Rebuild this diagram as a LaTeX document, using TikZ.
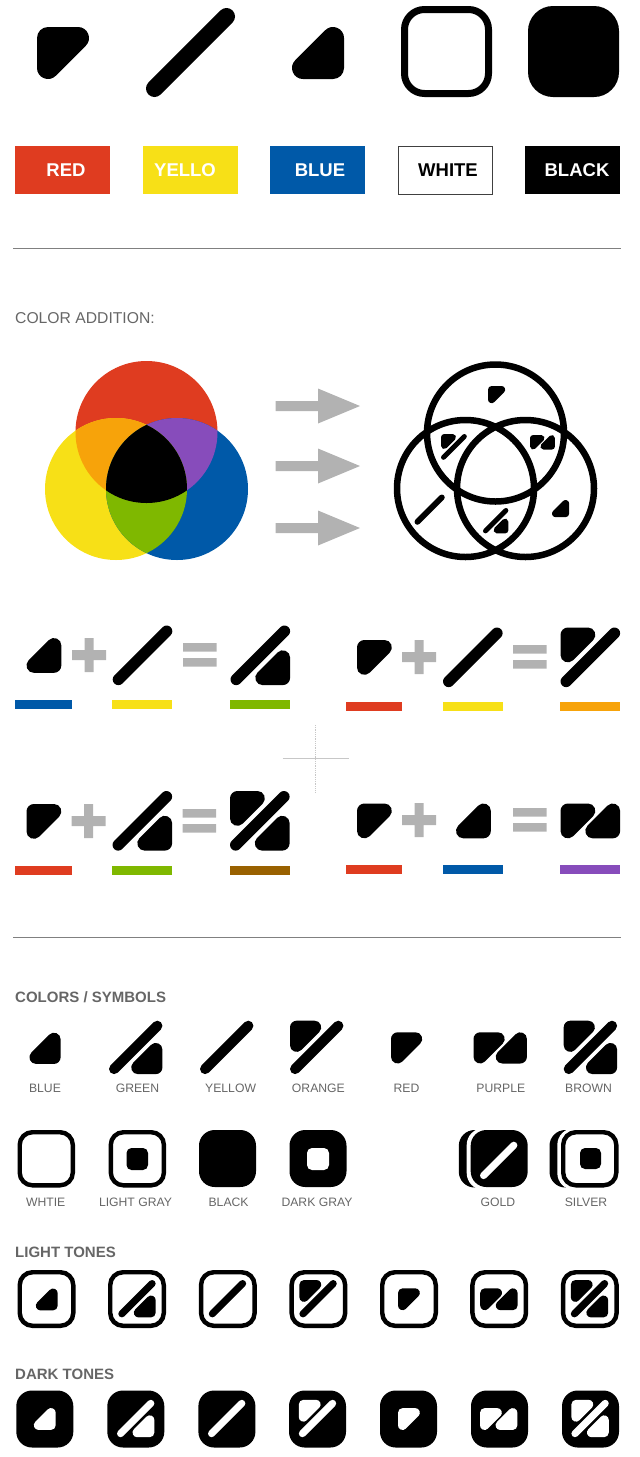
\documentclass[tikz,border=0pt]{standalone}
\usepackage{fontspec}
\setmainfont{Liberation Sans}
\usepackage{tikz}
\definecolor{ToneRed}{HTML}{DF3C20}
\definecolor{ToneYellow}{HTML}{F7E017}
\definecolor{ToneBlue}{HTML}{0059A8}
\definecolor{ToneOrange}{HTML}{F7A30A}
\definecolor{TonePurple}{HTML}{874CBB}
\definecolor{ToneGreen}{HTML}{7FB800}
\definecolor{ToneBrown}{HTML}{996100}
\definecolor{SignGray}{HTML}{B2B2B2}
\definecolor{TextGray}{HTML}{666666}
\tikzset{
    swatchtext/.style={font=\fontsize{18.5}{20}\selectfont\bfseries},
    headtext/.style={anchor=west, inner sep=0pt, color=TextGray, font=\fontsize{15}{17}\selectfont\bfseries},
    captext/.style={inner sep=0pt, color=TextGray, font=\fontsize{12.2}{14}\selectfont},
    rulerline/.style={color=gray, line width=0.9pt},
    atom/.style={line join=round, line cap=round},
}
% frame of a symbol is 89 wide at size 1: red top left, blue bottom right, bar on the diagonal
\newcommand{\partR}[4][black]{\pgfmathsetmacro{\gs}{#4}
    \begin{scope}[shift={(#2,#3)}, x=\gs pt, y=-\gs pt]
        \filldraw[color=#1, atom, line width=22*\gs pt] (11,11) -- (41,11) -- (11,41) -- cycle;
    \end{scope}}
\newcommand{\partB}[4][black]{\pgfmathsetmacro{\gs}{#4}
    \begin{scope}[shift={(#2,#3)}, x=\gs pt, y=-\gs pt]
        \filldraw[color=#1, atom, line width=22*\gs pt] (78,78) -- (48,78) -- (78,48) -- cycle;
    \end{scope}}
\newcommand{\partY}[4][black]{\pgfmathsetmacro{\gs}{#4}
    \begin{scope}[shift={(#2,#3)}, x=\gs pt, y=-\gs pt]
        \draw[color=#1, atom, line width=17*\gs pt] (8.5,80.5) -- (80.5,8.5);
    \end{scope}}
\newcommand{\glyphR}[4][black]{\partR[#1]{#2}{#3}{#4}}
\newcommand{\glyphY}[4][black]{\partY[#1]{#2}{#3}{#4}}
\newcommand{\glyphB}[4][black]{\partB[#1]{#2}{#3}{#4}}
\newcommand{\glyphG}[4][black]{\partY[#1]{#2}{#3}{#4}\partB[#1]{#2}{#3}{#4}}
\newcommand{\glyphO}[4][black]{\partR[#1]{#2}{#3}{#4}\partY[#1]{#2}{#3}{#4}}
\newcommand{\glyphBr}[4][black]{\partR[#1]{#2}{#3}{#4}\partY[#1]{#2}{#3}{#4}\partB[#1]{#2}{#3}{#4}}
\newcommand{\glyphP}[4][black]{\partR[#1]{#2}{#3}{#4}\pgfmathsetmacro{\gy}{#3-37*#4}\partB[#1]{#2}{\gy}{#4}}
% squares: left, top, outer size
\newcommand{\boxLight}[3]{\pgfmathsetmacro{\gs}{#3/91}
    \begin{scope}[shift={(#1,#2)}, x=\gs pt, y=-\gs pt]
        \draw[line width=7*\gs pt, fill=white, rounded corners=20*\gs pt] (3.5,3.5) rectangle (87.5,87.5);
    \end{scope}}
\newcommand{\boxDark}[4][black]{\pgfmathsetmacro{\gs}{#4/91}
    \begin{scope}[shift={(#2,#3)}, x=\gs pt, y=-\gs pt]
        \fill[color=#1, rounded corners=25*\gs pt] (0,0) rectangle (91,91);
    \end{scope}}
\newcommand{\signPlus}[2]{\fill[color=SignGray] (#1-17,#2-5) rectangle (#1+17,#2+5) (#1-4.5,#2-17) rectangle (#1+4.5,#2+17);}
\newcommand{\signEq}[3]{\fill[color=SignGray] (#1,#2) rectangle (#1+33.5,#2+8.5) (#1,#3) rectangle (#1+33.5,#3+8.5);}
\def\circR{(146.5,432) circle (71)}
\def\circY{(116,489) circle (71)}
\def\circB{(177,489) circle (71)}

\begin{document}
\begin{tikzpicture}[x=1pt, y=-1pt]
    \useasboundingbox (0,0) rectangle (640,1457);

    % atoms
    \glyphR{37}{27}{1}
    \glyphY{146}{8}{1}
    \glyphB{255}{-10}{1}
    \boxLight{401}{6}{91}
    \boxDark{528}{6}{91}

    % swatches
    \fill[color=ToneRed] (15,146) rectangle (110,194);
    \fill[color=ToneYellow] (143,146) rectangle (238,194);
    \fill[color=ToneBlue] (270,146) rectangle (365,194);
    \draw[color=black!75, line width=0.9pt] (398,146.5) rectangle (492.5,194);
    \fill[color=black] (525,146) rectangle (620,194);
    \node[swatchtext, color=white] (txtRed) at (66,170) {RED};
    \node[swatchtext, color=white] (txtYellow) at (185,170) {YELLO};
    \node[swatchtext, color=white] (txtBlue) at (320,170) {BLUE};
    \node[swatchtext, color=black] (txtWhite) at (448,170) {WHITE};
    \node[swatchtext, color=white] (txtBlack) at (577,170) {BLACK};

    \draw[rulerline] (13,248) -- (621,248);
    \node[headtext, font=\fontsize{15.7}{17}\selectfont] (txtAddition) at (15,318.5) {COLOR ADDITION:};

    % color circles
    \fill[color=ToneRed] \circR;
    \fill[color=ToneYellow] \circY;
    \fill[color=ToneBlue] \circB;
    \begin{scope}
        \clip \circR;
        \fill[color=ToneOrange] \circY;
        \fill[color=TonePurple] \circB;
    \end{scope}
    \begin{scope}
        \clip \circY;
        \clip \circB;
        \fill[color=ToneGreen] (40,410) rectangle (250,565);
        \clip \circR;
        \fill[color=black] (40,355) rectangle (250,565);
    \end{scope}

    \foreach \ay in {406,466,528}{
        \fill[color=SignGray] (275.5,\ay-5) -- (318,\ay-5) -- (318,\ay-17.5) -- (360,\ay) -- (318,\ay+17.5) -- (318,\ay+5) -- (275.5,\ay+5) -- cycle;
    }

    % symbol circles
    \draw[line width=6.5pt] (495.5,433) circle (68.5) (465.5,488.5) circle (68.5) (525.5,488.5) circle (68.5);
    \glyphR{488}{386}{.33}
    \glyphO{441}{434}{.29}
    \glyphP{530}{435}{.28}
    \glyphY{414.5}{494.5}{.34}
    \glyphG{483}{508}{.285}
    \glyphB{539.8}{487.8}{.33}

    % sums
    \glyphB{1.7}{613.2}{.67}
    \signPlus{89}{655}
    \glyphY{112.7}{625.5}{.67}
    \signEq{183}{643}{658}
    \glyphG{230.5}{625.5}{.67}
    \glyphR{357}{640}{.67}
    \signPlus{419}{657}
    \glyphY{443}{627.5}{.67}
    \signEq{513}{645}{660}
    \glyphO{560.5}{627.5}{.67}
    \glyphR{26.5}{804}{.67}
    \signPlus{88.5}{821}
    \glyphG{112.5}{791}{.67}
    \signEq{182.5}{809}{824}
    \glyphBr{230}{791}{.67}
    \glyphR{357}{803.5}{.67}
    \signPlus{419}{820}
    \glyphB{431.2}{778.7}{.67}
    \signEq{513}{808}{823}
    \glyphP{560.5}{803.5}{.67}

    \foreach \ux/\uw/\uy/\ucol in {15/56.5/700/ToneBlue, 112/60/700/ToneYellow, 230/59.5/700/ToneGreen,
        346/56/701.5/ToneRed, 443/59.5/701.5/ToneYellow, 560/60/701.5/ToneOrange,
        15/56.5/865.5/ToneRed, 112/60/865.5/ToneGreen, 230/59.5/865.5/ToneBrown,
        346/56/864.5/ToneRed, 443/59.5/864.5/ToneBlue, 560/60/864.5/TonePurple}{
        \fill[color=\ucol] (\ux,\uy) rectangle (\ux+\uw,\uy+9);
    }

    \draw[color=black!22, line width=0.8pt, densely dotted] (315.5,725) -- (315.5,792);
    \draw[color=black!22, line width=0.8pt] (282.5,758) -- (349,758);

    \draw[rulerline] (13,937) -- (621,937);

    % colors / symbols
    \node[headtext] (txtSymbols) at (15,997.5) {COLORS / SYMBOLS};
    \glyphB{7.2}{1010.5}{.6}
    \glyphG{109}{1020.7}{.6}
    \glyphY{200}{1020.7}{.6}
    \glyphO{290}{1020.7}{.6}
    \glyphR{391}{1032.3}{.6}
    \glyphP{473.5}{1032.3}{.6}
    \glyphBr{563.7}{1020.7}{.6}
    \foreach \lx/\ltxt [count=\li] in {45/BLUE, 137.5/GREEN, 230.6/YELLOW, 318.4/ORANGE, 406.5/RED, 500.8/PURPLE, 588.6/BROWN}{
        \node[captext] (capA\li) at (\lx,1088) {\ltxt};
    }

    \boxLight{17.5}{1130}{57.5}
    \boxLight{108.6}{1130}{57.5}
    \boxDark{199}{1130}{57}
    \boxDark{289.5}{1130}{57}
    \fill[rounded corners=5pt] (126.5,1148) rectangle (148,1170);
    \fill[color=white, rounded corners=5pt] (307,1148) rectangle (329,1170);

    \boxDark{458.8}{1130}{57.5}
    \boxDark[white]{466.7}{1128}{62}
    \boxDark{470.7}{1130}{57}
    \glyphY[white]{480}{1141.7}{.42}
    \boxDark{549.5}{1130}{57.5}
    \boxDark[white]{557.3}{1128}{62}
    \boxLight{561}{1130}{57.5}
    \fill[rounded corners=5pt] (580,1148) rectangle (601,1169);
    \foreach \lx/\ltxt [count=\li] in {45.7/WHTIE, 135.5/LIGHT GRAY, 228.6/BLACK, 317/DARK GRAY, 498/GOLD, 586/SILVER}{
        \node[captext] (capB\li) at (\lx,1202) {\ltxt};
    }

    % tones
    \node[headtext] (txtLight) at (15,1252.5) {LIGHT TONES};
    \foreach \bx/\gx/\gy/\gn in {17.5/2.8/3/B, 108/10.3/10/G, 198.8/10/10/Y, 289.4/10/10/O,
        380/18/18.3/R, 470.2/10/18.3/P, 560.8/10/10/Br}{
        \boxLight{\bx}{1270}{58}
        \csname glyph\gn\endcsname{\bx+\gx}{1270+\gy}{.42}
    }
    \node[headtext] (txtDark) at (15,1374.5) {DARK TONES};
    \foreach \bx/\gx/\gy/\gn in {16.3/2/2/B, 107.3/9.7/9.3/G, 198.4/9.6/9.3/Y, 289/9.8/9.3/O,
        380/18/17.6/R, 471/9/17.6/P, 562/9.4/9.3/Br}{
        \boxDark{\bx}{1390.5}{57}
        \csname glyph\gn\endcsname[white]{\bx+\gx}{1390.5+\gy}{.42}
    }
\end{tikzpicture}
\end{document}
